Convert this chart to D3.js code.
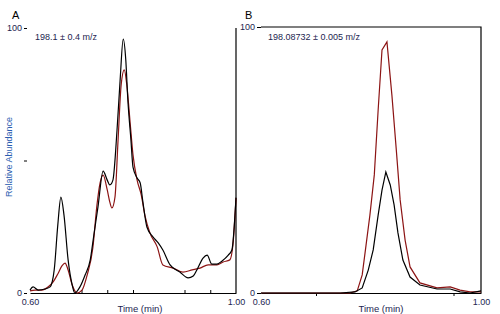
<!DOCTYPE html>
<html lang="en">
<head>
  <meta charset="UTF-8">
  <title>Extracted ion chromatograms A and B</title>
  <script src="https://d3js.org/d3.v7.min.js"></script>
  <style>
    body { margin: 0; background: white; }
    svg text { font-family: "Liberation Sans", Arial, sans-serif; }
  </style>
</head>
<body>
  <svg id="chart" width="500" height="314"></svg>

  <script>
    // Panel A (198.1 +/- 0.4 m/z): [time (min), relative abundance]
    const sampleA = [
      [0.600, 1.1], [0.606, 2.3], [0.616, 1.1], [0.629, 1.5], [0.639, 2.3], [0.647, 8.7],
      [0.654, 25.7], [0.660, 36.2], [0.666, 29.4], [0.674, 12.5], [0.682, 3.0], [0.687, 0],
      [0.697, 2.3], [0.707, 6.8], [0.717, 12.5], [0.724, 21.9], [0.732, 32.5], [0.742, 46.0],
      [0.750, 42.6], [0.755, 40.8], [0.761, 42.6], [0.769, 61.5], [0.775, 80.4], [0.781, 95.8],
      [0.786, 87.9], [0.790, 72.8], [0.796, 57.7], [0.800, 47.5], [0.808, 43.4], [0.814, 41.5],
      [0.819, 34.7], [0.827, 24.9], [0.839, 21.1], [0.849, 18.9], [0.858, 16.2], [0.872, 10.6],
      [0.891, 7.9], [0.907, 5.7], [0.917, 6.4], [0.924, 8.7], [0.936, 13.2], [0.944, 14.3],
      [0.953, 10.9], [0.963, 10.9], [0.973, 12.1], [0.985, 14.3], [0.992, 16.2], [1.000, 36.0]
    ];
    const referenceA = [
      [0.600, 0.8], [0.610, 1.1], [0.623, 1.1], [0.635, 2.3], [0.645, 4.2], [0.654, 7.2],
      [0.662, 10.2], [0.668, 11.3], [0.674, 8.7], [0.682, 3.0], [0.691, 0], [0.701, 1.1],
      [0.711, 6.8], [0.722, 17.0], [0.730, 33.2], [0.736, 41.5], [0.742, 44.5], [0.750, 38.9],
      [0.755, 34.3], [0.759, 32.1], [0.765, 36.2], [0.771, 57.7], [0.777, 78.5], [0.783, 84.2],
      [0.788, 78.5], [0.794, 65.3], [0.800, 52.1], [0.808, 42.6], [0.816, 37.0], [0.823, 29.4],
      [0.833, 22.6], [0.847, 17.4], [0.858, 10.6], [0.878, 9.4], [0.897, 7.9], [0.915, 8.7],
      [0.930, 9.4], [0.946, 10.6], [0.963, 10.6], [0.975, 11.7], [0.988, 12.5], [0.994, 18.1],
      [1.000, 35.8]
    ];

    // Panel B (198.08732 +/- 0.005 m/z)
    const sampleB = [
      [0.600, 0], [0.671, 0], [0.744, 0], [0.771, 0.4], [0.784, 1.9], [0.795, 8.6],
      [0.804, 16.2], [0.813, 29.3], [0.820, 38.7], [0.827, 45.5], [0.835, 40.6], [0.842, 33.1],
      [0.849, 22.6], [0.858, 12.4], [0.871, 6.0], [0.889, 3.0], [0.920, 1.5], [0.944, 1.5],
      [0.962, 0.4], [0.980, 0], [1.000, 0.8]
    ];
    const referenceB = [
      [0.600, 0], [0.762, 0], [0.775, 0.8], [0.784, 6.8], [0.791, 18.0], [0.798, 29.3],
      [0.806, 44.4], [0.813, 68.8], [0.820, 91.4], [0.829, 94.4], [0.838, 74.4], [0.846, 53.8],
      [0.853, 35.0], [0.862, 19.9], [0.871, 9.8], [0.889, 3.8], [0.920, 1.9], [0.944, 2.3],
      [0.962, 1.1], [0.980, 0.4], [1.000, 0.4]
    ];

    const ticksA = [0.70, 0.75, 0.80, 0.90, 0.95];
    const ticksB = [0.70, 0.95];
    const yTicks = [0, 100];

    const textColor = "#1c2550";
    const sampleColor = "#000000";
    const referenceColor = "#8c1414";

    const svg = d3.select("#chart");

    const xA = d3.scaleLinear().domain([0.6, 1.0]).range([30, 236]);
    const yA = d3.scaleLinear().domain([0, 100]).range([293, 28]);
    const xB = d3.scaleLinear().domain([0.6, 1.0]).range([261, 481]);
    const yB = d3.scaleLinear().domain([0, 100]).range([293, 27]);

    function styleAxis(g) {
      g.select(".domain").attr("stroke", "#000").attr("stroke-width", 1.2);
      g.selectAll(".tick line").attr("stroke", "#000");
      g.selectAll(".tick text")
        .attr("fill", textColor)
        .style("font-size", "9px")
        .style("font-family", "'Liberation Sans', Arial, sans-serif");
    }

    // ---- Panel A ----
    const gA = svg.append("g");

    // ticks along the bottom (pointing up, no labels)
    gA.append("g")
      .attr("transform", `translate(0,${yA(0)})`)
      .call(d3.axisBottom(xA).tickValues(ticksA).tickSize(-3).tickSizeOuter(0).tickFormat(""))
      .call(styleAxis);

    // end labels
    gA.append("g")
      .attr("transform", `translate(0,${yA(0)})`)
      .call(d3.axisBottom(xA).tickValues([0.6, 1.0]).tickSize(0).tickPadding(6).tickFormat(d3.format(".2f")))
      .call(g => g.select(".domain").remove())
      .call(styleAxis);

    // right edge, also separates the two panels
    gA.append("line")
      .attr("x1", xA(1.0)).attr("x2", xA(1.0))
      .attr("y1", yA(100)).attr("y2", yA(0))
      .attr("stroke", "#000").attr("stroke-width", 1.2);

    gA.append("g")
      .attr("transform", "translate(27,0)")
      .call(d3.axisLeft(yA).tickValues([0, 50, 100]).tickSize(3).tickPadding(2)
        .tickFormat(d => d === 50 ? "" : d))
      .call(g => g.select(".domain").remove())
      .call(styleAxis);

    const lineA = d3.line().x(d => xA(d[0])).y(d => yA(d[1])).curve(d3.curveMonotoneX);

    gA.append("path").datum(referenceA)
      .attr("fill", "none").attr("stroke", referenceColor).attr("stroke-width", 1.2)
      .attr("d", lineA);
    gA.append("path").datum(sampleA)
      .attr("fill", "none").attr("stroke", sampleColor).attr("stroke-width", 1.2)
      .attr("d", lineA);

    gA.append("text").attr("x", 12).attr("y", 19)
      .style("font-size", "11px").attr("fill", "#000").text("A");
    gA.append("text").attr("x", 35).attr("y", 40)
      .style("font-size", "9px").attr("fill", textColor).text("198.1 ± 0.4 m/z");
    gA.append("text").attr("x", 140).attr("y", 312)
      .attr("text-anchor", "middle").style("font-size", "9.5px").attr("fill", textColor)
      .text("Time (min)");
    gA.append("text")
      .attr("transform", "translate(12,157) rotate(-90)")
      .attr("text-anchor", "middle").style("font-size", "9px").attr("fill", "#2a5db0")
      .text("Relative Abundance");

    // ---- Panel B ----
    const gB = svg.append("g");

    gB.append("g")
      .attr("transform", `translate(0,${yB(0)})`)
      .call(d3.axisBottom(xB).tickValues(ticksB).tickSize(3).tickSizeOuter(0).tickFormat(""))
      .call(styleAxis);

    gB.append("g")
      .attr("transform", `translate(0,${yB(0)})`)
      .call(d3.axisBottom(xB).tickValues([0.6, 1.0]).tickSize(0).tickPadding(6).tickFormat(d3.format(".2f")))
      .call(g => g.select(".domain").remove())
      .call(styleAxis);

    // top and right frame
    gB.append("path")
      .attr("d", `M${xB(0.6)},${yB(100)}H${xB(1.0)}V${yB(0)}`)
      .attr("fill", "none").attr("stroke", "#000").attr("stroke-width", 1.2);

    gB.append("g")
      .attr("transform", `translate(${xB(0.6)},0)`)
      .call(d3.axisLeft(yB).tickValues(yTicks).tickSize(4).tickPadding(2))
      .call(g => g.select(".domain").remove())
      .call(styleAxis);

    const lineB = d3.line().x(d => xB(d[0])).y(d => yB(d[1]));

    gB.append("path").datum(referenceB)
      .attr("fill", "none").attr("stroke", referenceColor).attr("stroke-width", 1.2)
      .attr("d", lineB);
    gB.append("path").datum(sampleB)
      .attr("fill", "none").attr("stroke", sampleColor).attr("stroke-width", 1.2)
      .attr("d", lineB);

    gB.append("text").attr("x", 245).attr("y", 19)
      .style("font-size", "11px").attr("fill", "#000").text("B");
    gB.append("text").attr("x", 268).attr("y", 40)
      .style("font-size", "9px").attr("fill", textColor).text("198.08732 ± 0.005 m/z");
    gB.append("text").attr("x", 381).attr("y", 312)
      .attr("text-anchor", "middle").style("font-size", "9.5px").attr("fill", textColor)
      .text("Time (min)");
  </script>
</body>
</html>
